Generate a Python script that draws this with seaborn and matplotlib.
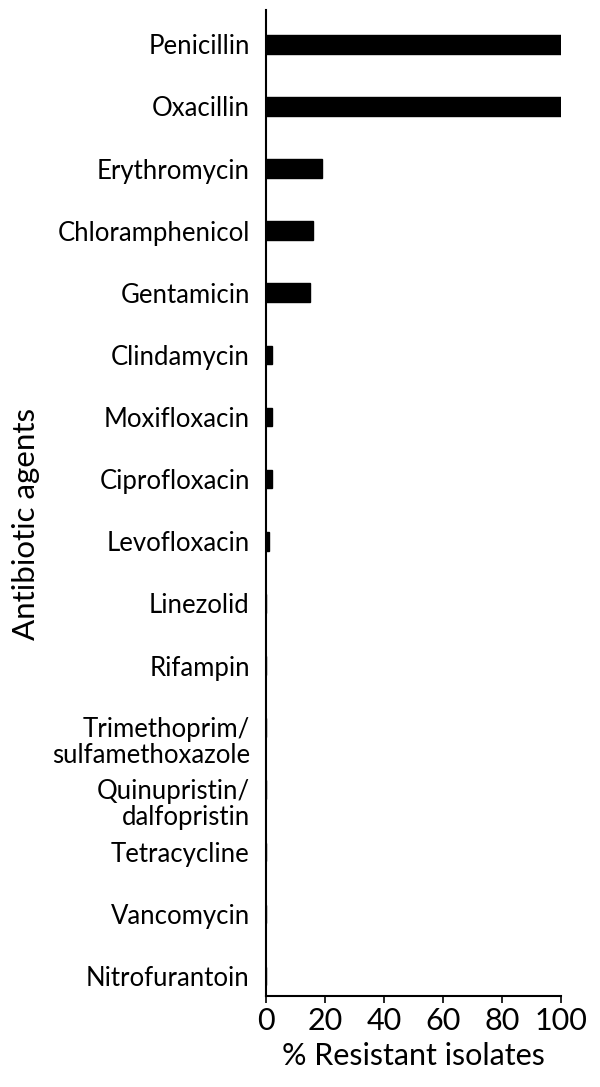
import matplotlib
matplotlib.use("Agg")
import matplotlib.pyplot as plt
import matplotlib.transforms as mtransforms
import seaborn as sns
import pandas as pd

agents = ["Penicillin", "Oxacillin", "Erythromycin", "Chloramphenicol", "Gentamicin",
          "Clindamycin", "Moxifloxacin", "Ciprofloxacin", "Levofloxacin", "Linezolid",
          "Rifampin", "Trimethoprim/\nsulfamethoxazole", "Quinupristin/\ndalfopristin",
          "Tetracycline", "Vancomycin", "Nitrofurantoin"]
resistant_pct = [100, 100, 19, 16, 15, 2, 2, 2, 1, 0, 0, 0, 0, 0, 0, 0]
x_ticks = [0, 20, 40, 60, 80, 100]

df = pd.DataFrame({"agent": agents, "pct": resistant_pct})

sns.set_theme(style="ticks")
plt.rcParams["font.family"] = ["Lato", "DejaVu Sans"]
plt.rcParams["text.color"] = "black"
plt.rcParams["xtick.color"] = "black"
plt.rcParams["ytick.color"] = "black"
plt.rcParams["axes.labelcolor"] = "black"

fig = plt.figure(figsize=(6, 10.87), dpi=100)
ax = fig.add_axes([0.443, 0.0837, 0.492, 0.907])
sns.barplot(data=df, x="pct", y="agent", orient="h", color="black", width=0.3,
            saturation=1, ax=ax, edgecolor="black")
ax.set_xlim(0, 100)
ax.set_ylim(15.32, -0.55)
ax.set_xticks(x_ticks)
ax.set_xticklabels([str(t) for t in x_ticks], fontsize=22)
ax.tick_params(axis="y", length=0, labelsize=18.5, pad=11.5)
ax.tick_params(axis="x", length=5, width=1.2, direction="out", pad=3)
offset = mtransforms.ScaledTranslation(0, -0.12, fig.dpi_scale_trans)
for lbl in ax.get_yticklabels():
    lbl.set_linespacing(1.05)
    if "\n" in lbl.get_text():
        lbl.set_transform(lbl.get_transform() + offset)
sns.despine(ax=ax)
for s in ("left", "bottom"):
    ax.spines[s].set_linewidth(1.5)
    ax.spines[s].set_color("black")
ax.set_xlabel("% Resistant isolates", fontsize=22, labelpad=5)
ax.set_ylabel("Antibiotic agents", fontsize=22.5)
ax.yaxis.set_label_coords(-0.765, 0.479)
fig.savefig("out.png", dpi=100, facecolor="white")
